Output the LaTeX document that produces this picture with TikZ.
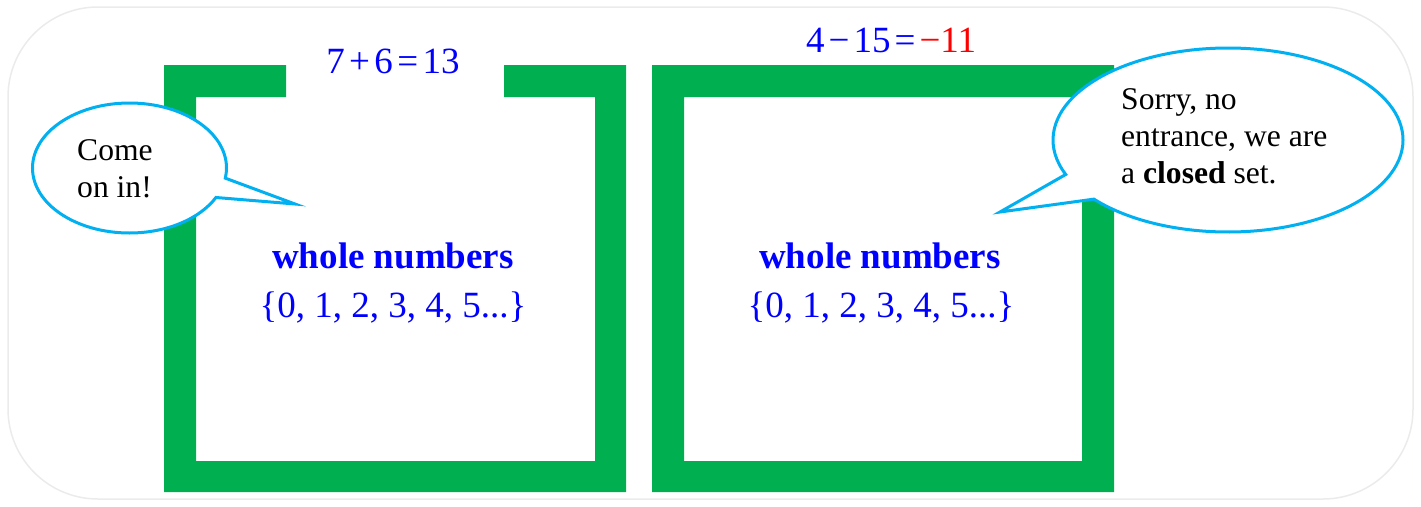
\documentclass[tikz,border=0pt]{standalone}
\usepackage{fontspec}
\setmainfont{Liberation Serif}
\usetikzlibrary{shapes.callouts}
\definecolor{boxgreen}{RGB}{0,176,80}
\definecolor{bubblecyan}{RGB}{0,176,240}
\definecolor{framegray}{RGB}{235,235,235}
\begin{document}
\begin{tikzpicture}[x=1pt,y=-1pt,
  wall/.style={fill=boxgreen},
  setname/.style={text=blue,font=\fontsize{37}{40}\selectfont\bfseries,anchor=base,inner sep=0pt},
  setlist/.style={text=blue,font=\fontsize{37}{40}\selectfont,anchor=base,inner sep=0pt},
  eqn/.style={text=blue,font=\fontsize{37}{40}\selectfont,anchor=base,inner sep=0pt},
  bubble/.style={ellipse callout,draw=bubblecyan,line width=3pt,fill=white,inner sep=0pt,callout pointer arc=18},
  saying/.style={font=\fontsize{31.6}{37}\selectfont,align=left,anchor=base west,inner sep=0pt}
]
\useasboundingbox (0,0) rectangle (1421,506);
\draw[framegray,line width=1.5pt,rounded corners=90pt] (8,7) rectangle (1413,499);
% left box (open top)
\fill[wall] (286,65) -- (164,65) -- (164,492) -- (626,492) -- (626,65) -- (504,65)
  -- (504,97) -- (595,97) -- (595,461) -- (196,461) -- (196,97) -- (286,97) -- cycle;
% right box (closed)
\fill[wall,even odd rule] (652,65) rectangle (1114,492) (684,97) rectangle (1082,461);
% texts
\node[eqn] (eqL) at (393,73) {7\hspace{0.12em}+\hspace{0.12em}6\hspace{0.12em}=\hspace{0.12em}13};
\node[eqn] (eqR) at (891,52) {4\hspace{0.11em}−\hspace{0.11em}15\hspace{0.11em}=\hspace{0.11em}\textcolor{red}{−11}};
\node[setname] (nameL) at (393,268) {whole numbers};
\node[setlist] (listL) at (393,317) {\{0, 1, 2, 3, 4, 5...\}};
\node[setname] (nameR) at (880,268) {whole numbers};
\node[setlist] (listR) at (881,317) {\{0, 1, 2, 3, 4, 5...\}};
% bubbles
\coordinate (tipL) at (295,204);
\coordinate (tipR) at (1000,212);
\node[bubble,minimum width=194pt,minimum height=130pt,callout absolute pointer={(tipL)}] (bubL) at (129.5,168) {};
\node[bubble,minimum width=350pt,minimum height=184pt,callout absolute pointer={(tipR)}] (bubR) at (1228,140) {};
\node[saying] (sayL) at (77,197) {Come\\on in!};
\node[saying] (sayR) at (1121,183) {Sorry, no\\entrance, we are\\a \textbf{closed} set.};
\end{tikzpicture}
\end{document}
